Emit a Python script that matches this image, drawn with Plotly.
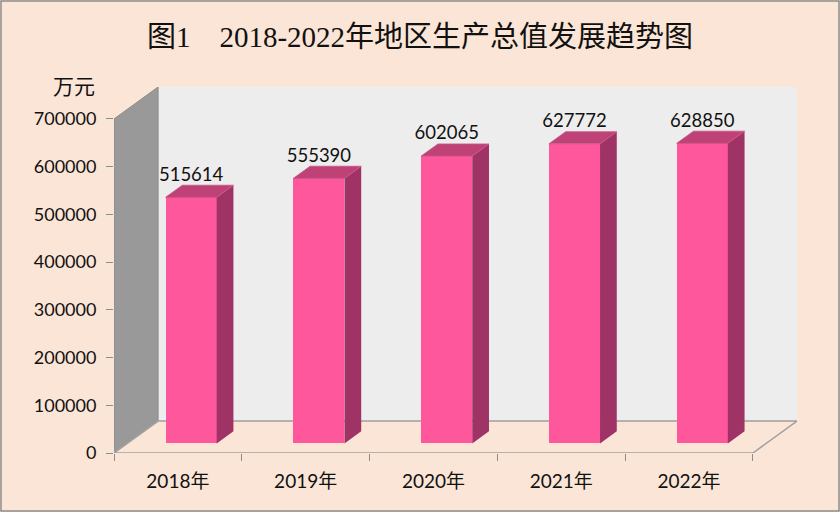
import plotly.graph_objects as go

# data
years = ["2018年", "2019年", "2020年", "2021年", "2022年"]
gdp = [515614, 555390, 602065, 627772, 628850]
y_ticks = [0, 100000, 200000, 300000, 400000, 500000, 600000, 700000]

# fake 3D geometry (axis units)
DX = 0.345      # depth of the box along x (category units)
DY = 66930      # depth of the box along y (value units)
F0 = 0.30       # where the bar front sits inside the depth
FD = 0.38       # bar depth as a share of the box depth
W = 0.40        # bar width
YMAX = 700000

BG = "#FBE5D6"
FRONT = "#FF579C"
TOP = "#BF4276"
SIDE = "#A03366"
EDGE = "#8C8C8C"

fig = go.Figure()

# front faces
fig.add_trace(go.Bar(
    x=[i + F0 * DX for i in range(len(gdp))],
    y=gdp,
    base=F0 * DY,
    width=W,
    marker=dict(color=FRONT, line=dict(width=0)),
    hoverinfo="skip",
    showlegend=False,
))

# top and side faces
top_x, top_y, side_x, side_y = [], [], [], []
b = F0 * DY
ddx, ddy = FD * DX, FD * DY
for i, v in enumerate(gdp):
    x0 = i - W / 2 + F0 * DX
    x1 = x0 + W
    t = b + v
    top_x += [x0, x1, x1 + ddx, x0 + ddx, x0, None]
    top_y += [t, t, t + ddy, t + ddy, t, None]
    side_x += [x1, x1, x1 + ddx, x1 + ddx, x1, None]
    side_y += [b, t, t + ddy, b + ddy, b, None]

fig.add_trace(go.Scatter(x=side_x, y=side_y, fill="toself", mode="lines",
                         fillcolor=SIDE, line=dict(width=0, color=SIDE),
                         hoverinfo="skip", showlegend=False))
fig.add_trace(go.Scatter(x=top_x, y=top_y, fill="toself", mode="lines",
                         fillcolor=TOP, line=dict(width=0.8, color="#C95585"),
                         hoverinfo="skip", showlegend=False))

# value labels
fig.add_trace(go.Scatter(
    x=[i + F0 * DX for i in range(len(gdp))],
    y=[b + v + ddy for v in gdp],
    mode="text",
    text=[str(v) for v in gdp],
    textposition="top center",
    textfont=dict(family="Lato, Noto Sans CJK SC", size=18.5, color="#111111"),
    hoverinfo="skip",
    showlegend=False,
))

# walls and floor
x_left = -0.5
x_right = len(gdp) - 0.5
wall_shapes = [
    # back wall
    dict(type="rect", xref="x", yref="y", layer="below",
         x0=x_left + DX, x1=x_right + DX, y0=DY, y1=YMAX + DY,
         fillcolor="#EDEDED", line=dict(width=0)),
    # left wall
    dict(type="path", xref="x", yref="y", layer="below",
         path=f"M {x_left},0 L {x_left},{YMAX} L {x_left + DX},{YMAX + DY} "
              f"L {x_left + DX},{DY} Z",
         fillcolor="#999999", line=dict(width=1, color=EDGE)),
    # floor
    dict(type="path", xref="x", yref="y", layer="below",
         path=f"M {x_left},0 L {x_right},0 L {x_right + DX},{DY} "
              f"L {x_left + DX},{DY} Z",
         fillcolor=BG, line=dict(width=1.5, color="#A0A0A0")),
]

ML, MR, MT, MB = 114, 43, 87, 59
PW, PH = 840 - ML - MR, 512 - MT - MB
border = dict(type="rect", xref="paper", yref="paper", layer="above",
              x0=-(ML - 1) / PW, x1=1 + (MR - 1) / PW,
              y0=-(MB - 1) / PH, y1=1 + (MT - 1) / PH,
              line=dict(width=1.5, color=EDGE), fillcolor="rgba(0,0,0,0)")

fig.update_layout(
    width=840, height=512,
    margin=dict(l=ML, r=MR, t=MT, b=MB),
    paper_bgcolor=BG,
    plot_bgcolor=BG,
    shapes=wall_shapes + [border],
    title=dict(
        text="图1　2018-2022年地区生产总值发展趋势图",
        x=0.5, xref="container", xanchor="center",
        y=1 - 37 / 512, yref="container", yanchor="middle",
        font=dict(family="Liberation Serif, Noto Sans CJK SC", size=29, color="#111111"),
    ),
    xaxis=dict(
        range=[x_left, x_right + DX],
        tickmode="array",
        tickvals=list(range(len(years))),
        ticktext=years,
        ticks="",
        ticklabelstandoff=15,
        minor=dict(tickmode="linear", tick0=-0.5, dtick=1, ticks="outside",
                   ticklen=7, tickcolor=EDGE, showgrid=False),
        showgrid=False, zeroline=False, showline=False,
        tickfont=dict(family="Lato, Noto Sans CJK SC", size=19, color="#111111"),
        fixedrange=True,
    ),
    yaxis=dict(
        range=[0, YMAX + DY],
        tickmode="array",
        tickvals=y_ticks,
        ticktext=[str(v) for v in y_ticks],
        ticks="outside", ticklen=7, tickcolor=EDGE,
        ticklabelstandoff=6,
        showgrid=False, zeroline=False, showline=False,
        tickfont=dict(family="Lato, Noto Sans CJK SC", size=18, color="#111111"),
        fixedrange=True,
    ),
    annotations=[
        dict(text="万元", xref="paper", yref="paper",
             x=-(ML - 74) / PW, y=1 + (MT - 85) / PH,
             xanchor="center", yanchor="middle", showarrow=False,
             font=dict(family="Noto Sans CJK SC", size=21, color="#111111")),
    ],
    bargap=0,
)

# drop the page's default body margin so the figure sits at the top-left corner
fig.write_html("out.html", config={"displayModeBar": False},
               post_script="document.body.style.margin='0';")
